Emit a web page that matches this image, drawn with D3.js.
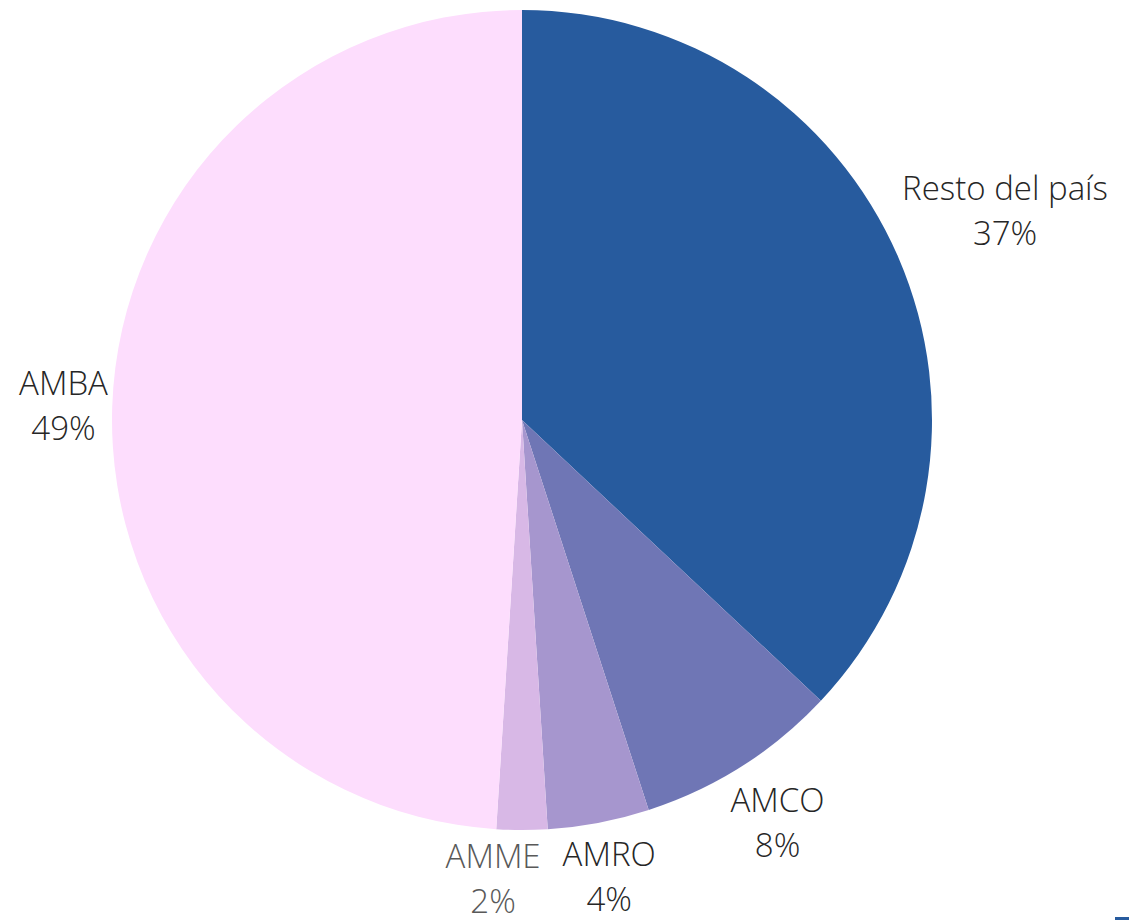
<!DOCTYPE html>
<html lang="es">
<head>
    <meta charset="UTF-8">
    <title>Pie</title>
</head>
<style>
    body { margin: 0; background: #fff; }
    text { font-family: "Open Sans", sans-serif; font-weight: 300; }
</style>
<body>
<script src="https://d3js.org/d3.v7.min.js"></script>
<script>
    const width = 1129, height = 920;
    const categories = ["Resto del país", "AMCO", "AMRO", "AMME", "AMBA"];
    const values = [37, 8, 4, 2, 49];
    const colors = ["#275B9E", "#6F76B5", "#A696CE", "#D8B8E6", "#FDDDFD"];
    const labelColors = ["#262626", "#262626", "#262626", "#595959", "#262626"];

    const cx = 522, cy = 420, radius = 410;
    const fontSize = 33, lineH = 45;

    const svg = d3.select("body")
        .append("svg")
        .attr("width", width)
        .attr("height", height);

    const data = categories.map(function (c, i) {
        return {name: c, value: values[i], color: colors[i], labelColor: labelColors[i]};
    });

    const pie = d3.pie().sort(null).value(function (d) { return d.value; });
    const arc = d3.arc().innerRadius(0).outerRadius(radius);
    const arcs = pie(data);

    const g = svg.append("g").attr("transform", "translate(" + cx + "," + cy + ")");

    g.selectAll("path.slice")
        .data(arcs)
        .enter().append("path")
        .attr("class", "slice")
        .attr("d", arc)
        .attr("fill", function (d) { return d.data.color; });

    // distance from the origin to the closest point of a box
    function boxDist(x, y, hw, hh) {
        const dx = Math.max(0, Math.abs(x) - hw);
        const dy = Math.max(0, Math.abs(y) - hh);
        return Math.sqrt(dx * dx + dy * dy);
    }

    const touchR = radius + 4;
    const minGap = 22;

    const labels = g.selectAll("text.label")
        .data(arcs)
        .enter().append("text")
        .attr("class", "label")
        .attr("text-anchor", "middle")
        .attr("font-size", fontSize)
        .attr("fill", function (d) { return d.data.labelColor; });

    let boxes = [];
    labels.each(function (d) {
        const t = d3.select(this);
        t.append("tspan").attr("x", 0).attr("dy", 0).text(d.data.name);
        t.append("tspan").attr("x", 0).attr("dy", lineH).text(d.data.value + "%");
        const hw = this.getBBox().width / 2, hh = lineH;
        const mid = (d.startAngle + d.endAngle) / 2;
        const s = Math.sin(mid), c = -Math.cos(mid);
        // slide the box out along the mid-angle ray until it just clears the pie
        let lo = 0, hi = radius * 2;
        for (let k = 0; k < 40; k++) {
            const m = (lo + hi) / 2;
            if (boxDist(s * m, c * m, hw, hh) < touchR) lo = m; else hi = m;
        }
        boxes.push({node: this, x: s * hi, y: c * hi, hw: hw, hh: hh});
    });

    // a crowded label gives way sideways to the one before it
    for (let i = 1; i < boxes.length; i++) {
        const a = boxes[i - 1], b = boxes[i];
        if (Math.abs(a.y - b.y) < a.hh + b.hh) {
            if (b.x < a.x) {
                const gap = (a.x - a.hw) - (b.x + b.hw);
                if (gap < minGap) b.x -= minGap - gap;
            } else {
                const gap = (b.x - b.hw) - (a.x + a.hw);
                if (gap < minGap) b.x += minGap - gap;
            }
        }
    }

    boxes.forEach(function (b) {
        d3.select(b.node).attr("transform",
            "translate(" + b.x + "," + (b.y - lineH / 2 + fontSize * 0.36) + ")");
    });

    // clipped legend marker in the corner
    svg.append("rect")
        .attr("x", width - 14)
        .attr("y", height - 3)
        .attr("width", 14)
        .attr("height", 3)
        .attr("fill", colors[0]);
</script>
</body>
</html>
